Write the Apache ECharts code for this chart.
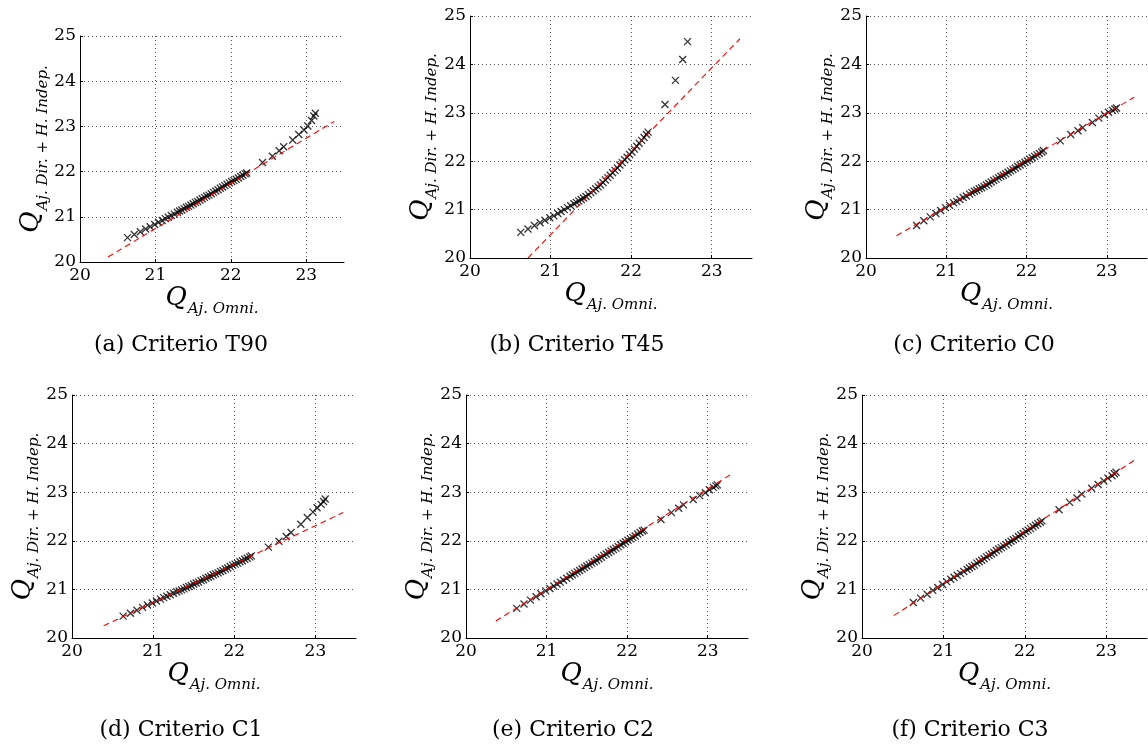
<!DOCTYPE html>
<html><head><meta charset="utf-8">
<script src="https://cdn.jsdelivr.net/npm/echarts@6/dist/echarts.min.js"></script>
<style>html,body{margin:0;padding:0;background:#fff}#c{width:1148px;height:745px}</style>
</head><body><div id="c"></div>
<script>
// Shared quantiles of Q Aj. Omni. (x values)
const qOmni = [20.63, 20.72, 20.80, 20.87, 20.93, 20.99, 21.04, 21.09, 21.13, 21.17, 21.21, 21.25, 21.29, 21.32, 21.35, 21.38, 21.41, 21.44, 21.47, 21.50, 21.53, 21.56, 21.59, 21.62, 21.65, 21.68, 21.71, 21.74, 21.77, 21.80, 21.83, 21.86, 21.89, 21.92, 21.95, 21.98, 22.01, 22.04, 22.07, 22.10, 22.13, 22.16, 22.19, 22.21, 22.42, 22.55, 22.64, 22.70, 22.82, 22.90, 22.97, 23.02, 23.07, 23.10, 23.12];

// Q Aj. Dir. + H. Indep. for each criterion
const qT90 = [20.54, 20.61, 20.67, 20.73, 20.78, 20.83, 20.88, 20.92, 20.96, 20.99, 21.03, 21.06, 21.10, 21.13, 21.15, 21.18, 21.21, 21.23, 21.26, 21.29, 21.32, 21.34, 21.37, 21.40, 21.43, 21.46, 21.48, 21.51, 21.54, 21.57, 21.60, 21.63, 21.66, 21.69, 21.72, 21.75, 21.78, 21.80, 21.83, 21.86, 21.89, 21.92, 21.95, 21.97, 22.20, 22.34, 22.46, 22.55, 22.70, 22.82, 22.92, 23.01, 23.13, 23.23, 23.29];
const qT45 = [20.53, 20.60, 20.67, 20.73, 20.78, 20.83, 20.87, 20.92, 20.96, 21.00, 21.04, 21.08, 21.12, 21.15, 21.18, 21.21, 21.24, 21.27, 21.31, 21.35, 21.39, 21.43, 21.47, 21.51, 21.56, 21.61, 21.66, 21.71, 21.76, 21.81, 21.86, 21.92, 21.97, 22.03, 22.08, 22.14, 22.19, 22.25, 22.31, 22.37, 22.43, 22.49, 22.55, 22.60, 23.17, 23.67, 24.10, 24.47, null, null, null, null, null, null, null];
const qC0 = [20.67, 20.77, 20.85, 20.92, 20.98, 21.04, 21.09, 21.14, 21.17, 21.21, 21.25, 21.28, 21.32, 21.35, 21.38, 21.40, 21.43, 21.45, 21.48, 21.51, 21.54, 21.57, 21.60, 21.63, 21.66, 21.69, 21.71, 21.74, 21.77, 21.80, 21.83, 21.86, 21.89, 21.92, 21.95, 21.98, 22.01, 22.04, 22.07, 22.10, 22.13, 22.16, 22.19, 22.22, 22.42, 22.55, 22.63, 22.69, 22.80, 22.89, 22.96, 23.01, 23.05, 23.08, 23.10];
const qC1 = [20.45, 20.51, 20.57, 20.63, 20.68, 20.72, 20.76, 20.80, 20.83, 20.86, 20.89, 20.92, 20.95, 20.97, 20.99, 21.01, 21.04, 21.06, 21.08, 21.11, 21.13, 21.15, 21.18, 21.20, 21.23, 21.25, 21.27, 21.30, 21.32, 21.34, 21.37, 21.39, 21.42, 21.44, 21.47, 21.50, 21.52, 21.54, 21.57, 21.59, 21.62, 21.64, 21.67, 21.69, 21.87, 21.99, 22.09, 22.17, 22.34, 22.48, 22.59, 22.68, 22.75, 22.81, 22.86];
const qC2 = [20.61, 20.70, 20.78, 20.85, 20.91, 20.97, 21.02, 21.07, 21.11, 21.15, 21.19, 21.23, 21.27, 21.30, 21.33, 21.36, 21.39, 21.42, 21.45, 21.48, 21.51, 21.54, 21.57, 21.60, 21.63, 21.66, 21.70, 21.73, 21.76, 21.79, 21.82, 21.85, 21.88, 21.92, 21.95, 21.98, 22.01, 22.04, 22.07, 22.10, 22.14, 22.17, 22.20, 22.22, 22.44, 22.58, 22.67, 22.74, 22.85, 22.93, 22.99, 23.05, 23.10, 23.13, 23.15];
const qC3 = [20.73, 20.82, 20.90, 20.98, 21.04, 21.10, 21.16, 21.21, 21.25, 21.29, 21.33, 21.37, 21.41, 21.44, 21.47, 21.50, 21.54, 21.57, 21.60, 21.63, 21.67, 21.70, 21.73, 21.76, 21.80, 21.83, 21.86, 21.89, 21.92, 21.96, 21.99, 22.02, 22.05, 22.09, 22.12, 22.15, 22.19, 22.22, 22.25, 22.29, 22.32, 22.35, 22.38, 22.41, 22.64, 22.79, 22.88, 22.96, 23.08, 23.16, 23.23, 23.29, 23.34, 23.38, 23.41];

// Reference (dashed red) lines: [x, y] end points
const fitT90 = [[20.37, 20.11], [23.37, 23.11]];
const fitT45 = [[20.72, 20.00], [23.35, 24.53]];
const fitC0 = [[20.38, 20.46], [23.34, 23.32]];
const fitC1 = [[20.39, 20.25], [23.34, 22.58]];
const fitC2 = [[20.37, 20.35], [23.31, 23.39]];
const fitC3 = [[20.39, 20.46], [23.35, 23.66]];

const captions = ['(a) Criterio T90', '(b) Criterio T45', '(c) Criterio C0', '(d) Criterio C1', '(e) Criterio C2', '(f) Criterio C3'];
const xName = {q: 'Q', sub: 'Aj. Omni.'};
const yName = {q: 'Q', sub: 'Aj. Dir. + H. Indep.'};
const xRange = [20, 23.5], yRange = [20, 25];

const panelY = [qT90, qT45, qC0, qC1, qC2, qC3];
const panelFit = [fitT90, fitT45, fitC0, fitC1, fitC2, fitC3];

// layout (pixels)
const layout = [
  {left: 80, top: 36, width: 264, height: 226, yGap: 22, cap: [181, 345]},
  {left: 470, top: 16, width: 282, height: 242, yGap: 30, cap: [577, 345]},
  {left: 866, top: 16, width: 281, height: 242, yGap: 30, cap: [974, 345]},
  {left: 72, top: 395, width: 284, height: 243, yGap: 30, cap: [181, 730]},
  {left: 466, top: 395, width: 282, height: 243, yGap: 30, cap: [573, 730]},
  {left: 862, top: 395, width: 285, height: 243, yGap: 30, cap: [970, 730]}
];

const SERIF = 'DejaVu Serif';
const rich = {
  q: {fontFamily: SERIF, fontStyle: 'italic', fontSize: 26, lineHeight: 28, color: '#000', verticalAlign: 'bottom', padding: [0, 1, 6, 0]},
  s: {fontFamily: SERIF, fontStyle: 'italic', fontSize: 15, lineHeight: 16, color: '#000', verticalAlign: 'bottom'}
};
const gridLine = {show: true, lineStyle: {type: [1, 3], color: '#555', width: 1}};
const cross = 'path://M0,0L10,10M10,0L0,10';

const grids = [], xAxes = [], yAxes = [], series = [], graphics = [];
layout.forEach((L, i) => {
  grids.push({left: L.left, top: L.top, width: L.width, height: L.height, containLabel: false, outerBoundsMode: 'none'});
  xAxes.push({
    type: 'value', gridIndex: i, min: xRange[0], max: xRange[1], interval: 1,
    axisLine: {show: true, onZero: false, lineStyle: {color: '#000', width: 1}},
    axisTick: {show: true, inside: true, length: 3, lineStyle: {color: '#000'}},
    axisLabel: {color: '#000', fontFamily: SERIF, fontSize: 17, margin: 5, showMaxLabel: false,
      formatter: v => (Number.isInteger(v) ? String(v) : '')},
    splitLine: Object.assign({showMaxLine: false}, gridLine),
    name: '{q|' + xName.q + '}{s|' + xName.sub + '}', nameLocation: 'middle', nameGap: 26,
    nameTextStyle: {rich: rich}
  });
  yAxes.push({
    type: 'value', gridIndex: i, min: yRange[0], max: yRange[1], interval: 1,
    axisLine: {show: true, onZero: false, lineStyle: {color: '#000', width: 1}},
    axisTick: {show: true, inside: true, length: 3, lineStyle: {color: '#000'}},
    axisLabel: {color: '#000', fontFamily: SERIF, fontSize: 17, margin: 4},
    splitLine: gridLine,
    name: '{q|' + yName.q + '}{s|' + yName.sub + '}', nameLocation: 'middle', nameGap: L.yGap, nameRotate: 90,
    nameTextStyle: {rich: rich}
  });
  const pts = [];
  qOmni.forEach((x, k) => { const y = panelY[i][k]; if (y !== null && y !== undefined) pts.push([x, y]); });
  series.push({
    type: 'scatter', xAxisIndex: i, yAxisIndex: i, data: pts, symbol: cross, symbolSize: 7,
    itemStyle: {color: 'rgba(0,0,0,0)', borderColor: '#000', borderWidth: 1.3}, silent: true, z: 2
  });
  series.push({
    type: 'line', xAxisIndex: i, yAxisIndex: i, data: panelFit[i], symbol: 'none', silent: true, z: 3,
    lineStyle: {color: '#ff0000', width: 1.1, type: [6, 4]}
  });
  graphics.push({
    type: 'text', x: L.cap[0], y: L.cap[1], silent: true,
    style: {text: captions[i], font: '22px "' + SERIF + '"', fill: '#000', align: 'center', verticalAlign: 'middle', textAlign: 'center', textVerticalAlign: 'middle'}
  });
});

const chart = echarts.init(document.getElementById('c'), null, {renderer: 'canvas'});
chart.setOption({
  animation: false,
  backgroundColor: '#fff',
  grid: grids, xAxis: xAxes, yAxis: yAxes, series: series, graphic: graphics
});
</script>
</body></html>
